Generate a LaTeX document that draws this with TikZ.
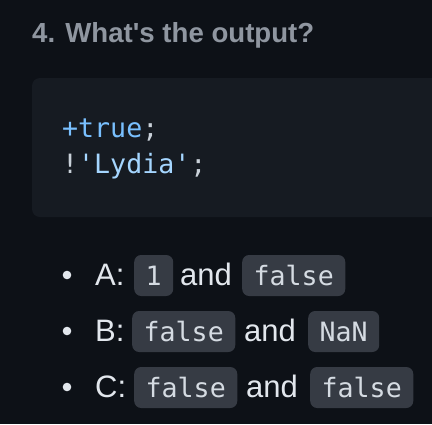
\documentclass[tikz,border=0pt]{standalone}
\usepackage{fontspec}
\setmainfont{Liberation Sans}[Ligatures=TeXOff]
\newfontfamily\codefont{DejaVu Sans Mono}[Ligatures=TeXOff]
\definecolor{pagebg}{HTML}{0D1117}
\definecolor{codebg}{HTML}{161B22}
\definecolor{titlecol}{HTML}{8F96A0}
\definecolor{textcol}{HTML}{E2E7ED}
\definecolor{chipbg}{HTML}{363B44}
\definecolor{chiptext}{HTML}{D5DBE2}
\definecolor{kwblue}{HTML}{79C0FF}
\definecolor{strblue}{HTML}{A5D6FF}
\definecolor{punct}{HTML}{C9D1D9}
\begin{document}
\begin{tikzpicture}[x=1pt,y=1pt,
  titletext/.style={anchor=base west,inner sep=0pt,text=titlecol,font=\fontsize{27.6}{30}\selectfont\bfseries},
  codeline/.style={anchor=base west,inner sep=0pt,font=\codefont\fontsize{26.6}{30}\selectfont},
  bulletdot/.style={circle,fill=textcol,inner sep=0pt,minimum size=8.6pt},
  itemtext/.style={anchor=base west,inner sep=0pt,text=textcol,font=\fontsize{31}{34}\selectfont},
  chip/.style={anchor=base west,fill=chipbg,rounded corners=7pt,text=chiptext,
    font=\codefont\fontsize{26.6}{30}\selectfont,inner xsep=11.5pt,inner ysep=7pt,
    text height=23pt,text depth=4pt}
]
\useasboundingbox (0,0) rectangle (432,-424);
\fill[pagebg] (0,0) rectangle (432,-424);
\begin{scope}
  \clip (0,0) rectangle (432,-424);
  \fill[codebg,rounded corners=8pt] (32,-78) rectangle (450,-217);
\end{scope}
\node[titletext] (title) at (32,-42) {4. What's the output?};
\node[codeline] (code1) at (62,-137) {\textcolor{kwblue}{+true}\textcolor{punct}{;}};
\node[codeline] (code2) at (62,-173) {\textcolor{punct}{!}\textcolor{strblue}{'Lydia'}\textcolor{punct}{;}};
% item A
\node[bulletdot] (dotA) at (67,-275) {};
\node[itemtext] (labA) at (95,-285) {A:};
\node[chip] (a1) at (134,-285) {1};
\node[itemtext] (andA) at (180,-285) {and};
\node[chip] (a2) at (242,-285) {false};
% item B
\node[bulletdot] (dotB) at (67,-331) {};
\node[itemtext] (labB) at (95,-341) {B:};
\node[chip] (b1) at (132,-341) {false};
\node[itemtext] (andB) at (244,-341) {and};
\node[chip] (b2) at (308,-341) {NaN};
% item C
\node[bulletdot] (dotC) at (67,-387) {};
\node[itemtext] (labC) at (95,-397) {C:};
\node[chip] (c1) at (134,-397) {false};
\node[itemtext] (andC) at (246,-397) {and};
\node[chip] (c2) at (310,-397) {false};
\end{tikzpicture}
\end{document}
